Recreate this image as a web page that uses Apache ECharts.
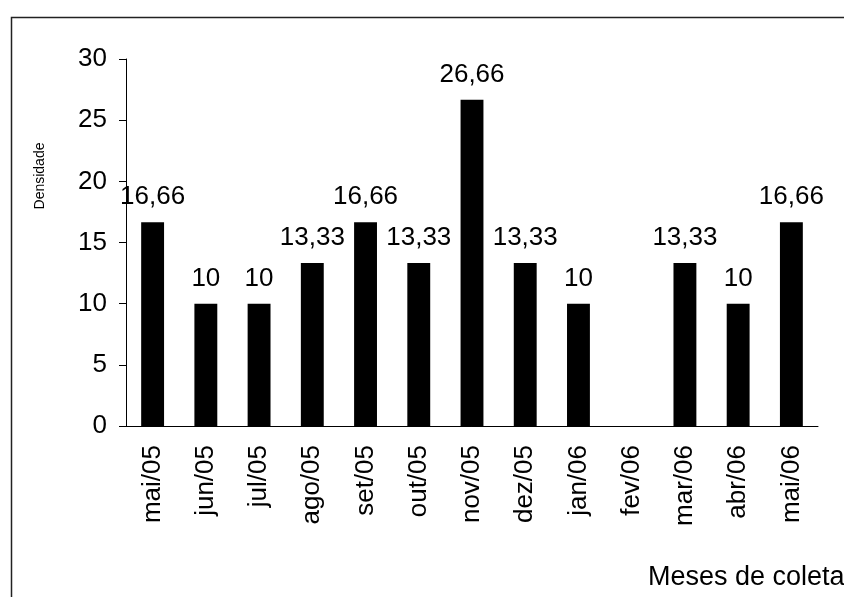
<!DOCTYPE html>
<html>
<head>
<meta charset="utf-8">
<script src="https://cdn.jsdelivr.net/npm/echarts@6/dist/echarts.min.js"></script>
<style>
  html, body { margin: 0; padding: 0; background: #fff; }
  #chart { width: 844px; height: 597px; }
</style>
</head>
<body>
<div id="chart"></div>
<script>
// meses de coleta e densidade
const meses = ['mai/05', 'jun/05', 'jul/05', 'ago/05', 'set/05', 'out/05', 'nov/05',
  'dez/05', 'jan/06', 'fev/06', 'mar/06', 'abr/06', 'mai/06'];
const densidade = [16.66, 10, 10, 13.33, 16.66, 13.33, 26.66, 13.33, 10, null, 13.33, 10, 16.66];
const yTicks = [0, 5, 10, 15, 20, 25, 30];

const chart = echarts.init(document.getElementById('chart'));
const font = 'Liberation Sans, Arial, sans-serif';

const option = {
  animation: false,
  graphic: [
    {
      type: 'rect',
      shape: { x: 11.5, y: 17.5, width: 900, height: 700 },
      style: { fill: 'none', stroke: '#222', lineWidth: 1.5 }
    },
    {
      type: 'text',
      x: 40, y: 176, rotation: Math.PI / 2,
      style: { text: 'Densidade', font: '14px ' + font, fill: '#000', align: 'center', verticalAlign: 'middle' }
    },
    {
      type: 'text',
      left: 648, top: 564,
      style: { text: 'Meses de coleta', font: '27px ' + font, fill: '#000' }
    }
  ],
  grid: { left: 126, top: 59, right: 26, bottom: 171 },
  xAxis: {
    type: 'category',
    data: meses,
    axisLine: { lineStyle: { color: '#000', width: 1 } },
    axisTick: { length: 8, lineStyle: { color: '#000' } },
    axisLabel: {
      rotate: 90, margin: 19, color: '#000',
      fontFamily: font, fontSize: 26
    }
  },
  yAxis: {
    type: 'value',
    min: yTicks[0], max: yTicks[yTicks.length - 1], interval: 5,
    splitLine: { show: false },
    axisLine: { show: true, lineStyle: { color: '#000', width: 1 } },
    axisTick: { show: true, length: 7, lineStyle: { color: '#000' } },
    axisLabel: { margin: 19, color: '#000', fontFamily: font, fontSize: 26 }
  },
  series: [{
    type: 'bar',
    data: densidade,
    barWidth: '43%',
    itemStyle: { color: '#000' },
    label: {
      show: true, position: 'top', distance: 12,
      color: '#000', fontFamily: font, fontSize: 26,
      formatter: p => String(p.value).replace('.', ',')
    }
  }]
};

chart.setOption(option);
</script>
</body>
</html>
